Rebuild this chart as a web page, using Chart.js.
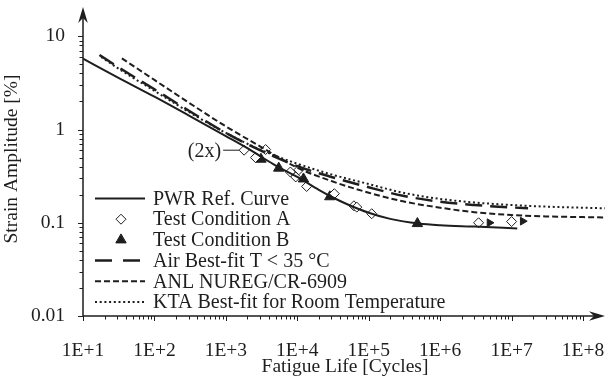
<!DOCTYPE html>
<html><head><meta charset="utf-8">
<script src="https://cdn.jsdelivr.net/npm/chart.js@4.4.1/dist/chart.umd.min.js"></script>
<style>html,body{margin:0;padding:0;background:#fff;}#wrap{width:612px;height:384px;}</style>
</head><body><div id="wrap"><canvas id="c" width="612" height="384"></canvas></div>
<script>
// ---------- data ----------
const xTickValues = [1e1, 1e2, 1e3, 1e4, 1e5, 1e6, 1e7, 1e8];
const xTickLabels = ['1E+1', '1E+2', '1E+3', '1E+4', '1E+5', '1E+6', '1E+7', '1E+8'];
const yTickValues = [0.01, 0.1, 1, 10];
const yTickLabels = ['0.01', '0.1', '1', '10'];

// PWR reference curve (solid)
const pwrCycles = [10, 30, 100, 300, 1000, 2000, 3000, 5000, 1e4, 2e4, 3e4, 5e4, 1e5, 2e5, 5e5, 1e6, 3e6, 1.2e7];
const pwrStrain = [5.75, 3.65, 2.25, 1.42, 0.85, 0.63, 0.52, 0.41, 0.31, 0.225, 0.19, 0.158, 0.128, 0.11, 0.098, 0.094, 0.091, 0.087];

// Test condition A (open diamonds)
const aCycles = [1800, 2600, 3600, 8000, 9500, 10500, 13500, 33000, 62000, 68000, 110000, 3.45e6, 1.0e7];
const aStrain = [0.60, 0.50, 0.61, 0.35, 0.31, 0.37, 0.245, 0.205, 0.152, 0.147, 0.125, 0.100, 0.103];

// Run-out markers (arrows) for the last two A specimens
const runoutCycles = [4.9e6, 1.43e7];
const runoutStrain = [0.100, 0.104];

// Test condition B (filled triangles)
const bCycles = [3100, 5500, 12200, 28500, 480000];
const bStrain = [0.48, 0.385, 0.295, 0.19, 0.098];

// Air best-fit T < 35 °C (long dash)
const airCycles = [17, 30, 100, 300, 1000, 3000, 1e4, 3e4, 1e5, 3e5, 1e6, 3e6, 1e7, 1.7e7];
const airStrain = [6.3, 4.75, 2.7, 1.6, 0.92, 0.60, 0.405, 0.31, 0.24, 0.195, 0.168, 0.155, 0.146, 0.143];

// ANL NUREG/CR-6909 (short dash)
const anlCycles = [35, 100, 300, 1000, 3000, 1e4, 3e4, 1e5, 3e5, 1e6, 3e6, 1e7, 3e7, 1e8, 2.03e8];
const anlStrain = [5.8, 3.4, 1.95, 1.08, 0.66, 0.39, 0.28, 0.21, 0.17, 0.145, 0.13, 0.121, 0.117, 0.115, 0.114];

// KTA best-fit for room temperature (dotted)
const ktaCycles = [18, 30, 100, 300, 1000, 3000, 1e4, 3e4, 1e5, 3e5, 1e6, 3e6, 1e7, 3e7, 1e8, 2.03e8];
const ktaStrain = [6.0, 4.6, 2.6, 1.55, 0.92, 0.61, 0.43, 0.33, 0.26, 0.21, 0.18, 0.165, 0.155, 0.149, 0.145, 0.143];

const legendLabels = ['PWR Ref. Curve', 'Test Condition A', 'Test Condition B',
  'Air Best-fit T < 35 °C', 'ANL NUREG/CR-6909', 'KTA Best-fit for Room Temperature'];
const xTitle = 'Fatigue Life [Cycles]';
const yTitle = 'Strain Amplitude [%]';
const noteText = '(2x)';

// ---------- helpers ----------
const INK = '#1e1e1e';
const FONT = '"Liberation Serif", "Times New Roman", serif';
const pts = (xs, ys) => xs.map((x, i) => ({x: x, y: ys[i]}));
const isPow10 = v => Math.abs(Math.log10(v) - Math.round(Math.log10(v))) < 1e-9;
function logTicks(e0, e1) {
  const out = [];
  for (let e = e0; e < e1; e++) for (let m = 1; m <= 9; m++) out.push({value: m * Math.pow(10, e)});
  out.push({value: Math.pow(10, e1)});
  return out;
}

const lineDs = (label, data, dash, width) => ({
  label, data, showLine: true, borderColor: INK, borderWidth: width, borderDash: dash,
  borderCapStyle: 'butt', pointRadius: 0, pointHoverRadius: 0, fill: false,
  cubicInterpolationMode: 'monotone'
});

const datasets = [
  lineDs(legendLabels[0], pts(pwrCycles, pwrStrain), [], 2),
  lineDs(legendLabels[3], pts(airCycles, airStrain), [17, 8], 2.5),
  lineDs(legendLabels[4], pts(anlCycles, anlStrain), [6, 3], 2),
  lineDs(legendLabels[5], pts(ktaCycles, ktaStrain), [2, 2.7], 2),
  {label: legendLabels[1], data: pts(aCycles, aStrain), showLine: false, pointStyle: 'rectRot',
   pointRadius: 5, pointBackgroundColor: '#fff', pointBorderColor: INK, pointBorderWidth: 1},
  {label: 'runout', data: pts(runoutCycles, runoutStrain), showLine: false, pointStyle: 'triangle',
   rotation: 90, pointRadius: 4.5, pointBackgroundColor: INK, pointBorderColor: INK, pointBorderWidth: 1},
  {label: legendLabels[2], data: pts(bCycles, bStrain), showLine: false, pointStyle: 'triangle',
   pointRadius: 6, pointBackgroundColor: INK, pointBorderColor: INK, pointBorderWidth: 1}
];

function arrowHead(ctx, x, y, ang) {
  ctx.save();
  ctx.translate(x, y); ctx.rotate(ang);
  ctx.beginPath();
  ctx.moveTo(0, 0); ctx.lineTo(-16, -4.8); ctx.lineTo(-11, 0); ctx.lineTo(-16, 4.8); ctx.closePath();
  ctx.fill();
  ctx.restore();
}

const deco = {
  id: 'deco',
  afterDraw(chart) {
    const ctx = chart.ctx, a = chart.chartArea, xs = chart.scales.x, ys = chart.scales.y;
    ctx.save();
    ctx.strokeStyle = INK; ctx.fillStyle = INK;
    // axis lines
    ctx.lineWidth = 1.5;
    ctx.beginPath();
    ctx.moveTo(a.left, a.bottom); ctx.lineTo(a.right - 8, a.bottom);
    ctx.moveTo(a.left, a.bottom); ctx.lineTo(a.left, a.top + 8);
    ctx.stroke();
    arrowHead(ctx, a.right, a.bottom, 0);
    arrowHead(ctx, a.left, a.top, -Math.PI / 2);
    // tick marks
    ctx.lineWidth = 1;
    xs.ticks.forEach(t => {
      const p = Math.round(xs.getPixelForValue(t.value)) + 0.5;
      ctx.beginPath(); ctx.moveTo(p, a.bottom); ctx.lineTo(p, a.bottom + (isPow10(t.value) ? 5 : 3.5)); ctx.stroke();
    });
    ys.ticks.forEach(t => {
      const p = Math.round(ys.getPixelForValue(t.value)) + 0.5;
      ctx.beginPath(); ctx.moveTo(a.left, p); ctx.lineTo(a.left - (isPow10(t.value) ? 5 : 3.5), p); ctx.stroke();
    });
    // axis titles
    ctx.font = '19.5px ' + FONT;
    ctx.textBaseline = 'middle'; ctx.textAlign = 'center';
    ctx.fillText(xTitle, 345, 367);
    ctx.save(); ctx.translate(12, 159); ctx.rotate(-Math.PI / 2); ctx.fillText(yTitle, 0, 0); ctx.restore();
    // (2x) note
    ctx.font = '20px ' + FONT;
    const dx = xs.getPixelForValue(aCycles[0]), dy = ys.getPixelForValue(aStrain[0]);
    ctx.beginPath(); ctx.moveTo(dx - 5, dy); ctx.lineTo(dx - 21, dy); ctx.stroke();
    ctx.textAlign = 'right';
    ctx.fillText(noteText, dx - 23, dy + 1.5);
    // legend
    const lx0 = 95, lx1 = 145, tx = 153, y0 = 198.5, step = 20.7;
    const styles = [
      {type: 'line', dash: [], w: 2},
      {type: 'pt', ds: datasets[4]},
      {type: 'pt', ds: datasets[6]},
      {type: 'line', dash: [17, 11], w: 2.5},
      {type: 'line', dash: [6, 3], w: 2},
      {type: 'line', dash: [2, 2.7], w: 2}
    ];
    styles.forEach((s, i) => {
      const y = y0 + i * step;
      if (s.type === 'line') {
        ctx.save(); ctx.lineWidth = s.w; ctx.setLineDash(s.dash); ctx.lineCap = 'butt';
        ctx.beginPath(); ctx.moveTo(lx0, y); ctx.lineTo(lx1, y); ctx.stroke(); ctx.restore();
      } else {
        ctx.save();
        ctx.fillStyle = s.ds.pointBackgroundColor; ctx.strokeStyle = s.ds.pointBorderColor; ctx.lineWidth = 1;
        Chart.helpers.drawPoint(ctx, {pointStyle: s.ds.pointStyle, rotation: 0, radius: s.ds.pointRadius, borderWidth: 1}, 121, y);
        ctx.restore();
      }
      ctx.textAlign = 'left'; ctx.textBaseline = 'middle'; ctx.fillStyle = INK;
      ctx.fillText(legendLabels[i], tx, y + 1);
    });
    ctx.restore();
  }
};

new Chart(document.getElementById('c'), {
  type: 'line',
  data: {datasets},
  options: {
    responsive: false, animation: false, devicePixelRatio: 1,
    layout: {padding: {left: 0, right: 5, top: 2, bottom: 0}},
    plugins: {legend: {display: false}, tooltip: {enabled: false}},
    scales: {
      x: {
        type: 'logarithmic', min: 10, max: 2.03e8,
        afterBuildTicks: s => { s.ticks = logTicks(1, 8); },
        afterFit: s => { s.height = 68; s.paddingLeft = 0; s.paddingRight = 0; },
        grid: {display: false, drawTicks: false}, border: {display: false},
        ticks: {autoSkip: false, maxRotation: 0, minRotation: 0, padding: 23, color: INK,
          font: {family: FONT, size: 19.5},
          callback: v => { const i = xTickValues.findIndex(t => Math.abs(t - v) / t < 1e-6); return i >= 0 ? xTickLabels[i] : ''; }}
      },
      y: {
        type: 'logarithmic', min: 0.01, max: 20.6,
        afterBuildTicks: s => { s.ticks = logTicks(-2, 1); },
        afterFit: s => { s.width = 83; s.paddingTop = 0; s.paddingBottom = 0; },
        grid: {display: false, drawTicks: false}, border: {display: false},
        ticks: {autoSkip: false, padding: 18, color: INK, font: {family: FONT, size: 19.5},
          callback: v => { const i = yTickValues.findIndex(t => Math.abs(t - v) / t < 1e-6); return i >= 0 ? yTickLabels[i] : ''; }}
      }
    }
  },
  plugins: [deco]
});
</script></body></html>
